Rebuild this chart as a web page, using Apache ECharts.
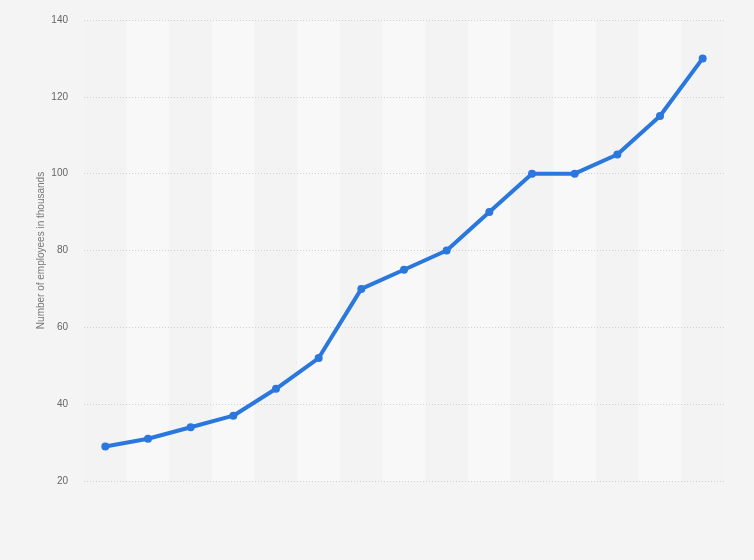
<!DOCTYPE html>
<html>
<head>
<meta charset="utf-8">
<script src="https://cdn.jsdelivr.net/npm/echarts@6/dist/echarts.min.js"></script>
<style>
  html, body { margin: 0; padding: 0; background: #f4f4f4; }
  #chart { width: 754px; height: 560px; }
</style>
</head>
<body>
<div id="chart"></div>
<script>
// categories (no labels shown in the picture)
var categories = ['1', '2', '3', '4', '5', '6', '7', '8', '9', '10', '11', '12', '13', '14', '15'];
// employees in thousands
var employees = [29, 31, 34, 37, 44, 52, 70, 75, 80, 90, 100, 100, 105, 115, 130];
// y axis ticks
var yMin = 20;
var yMax = 140;
var yStep = 20;

var chart = echarts.init(document.getElementById('chart'));
var option = {
  backgroundColor: '#f4f4f4',
  animation: false,
  grid: { left: 84, right: 30, top: 20, bottom: 79 },
  xAxis: {
    type: 'category',
    data: categories,
    boundaryGap: true,
    z: 0,
    axisLine: { show: false },
    axisTick: { show: false },
    axisLabel: { show: false },
    splitLine: { show: false },
    // alternating column bands
    splitArea: {
      show: true,
      interval: 0,
      areaStyle: { color: ['#f3f3f3', '#f8f8f8'] }
    }
  },
  yAxis: {
    type: 'value',
    min: yMin,
    max: yMax,
    interval: yStep,
    z: 3,
    name: 'Number of employees in thousands',
    nameLocation: 'middle',
    nameGap: 38,
    nameMoveOverlap: false,
    nameTextStyle: { color: '#777', fontSize: 10, fontFamily: 'Arial, Liberation Sans, sans-serif' },
    axisLine: { show: false },
    axisTick: { show: false },
    axisLabel: { color: '#666', fontSize: 10, margin: 16, fontFamily: 'Arial, Liberation Sans, sans-serif' },
    splitLine: { lineStyle: { color: '#d0d0d0', type: [1, 2], width: 1 } }
  },
  series: [{
    type: 'line',
    data: employees,
    z: 5,
    symbol: 'circle',
    symbolSize: 8,
    lineStyle: { color: '#2a77de', width: 4 },
    itemStyle: { color: '#2a77de' }
  }]
};
chart.setOption(option);
</script>
</body>
</html>
